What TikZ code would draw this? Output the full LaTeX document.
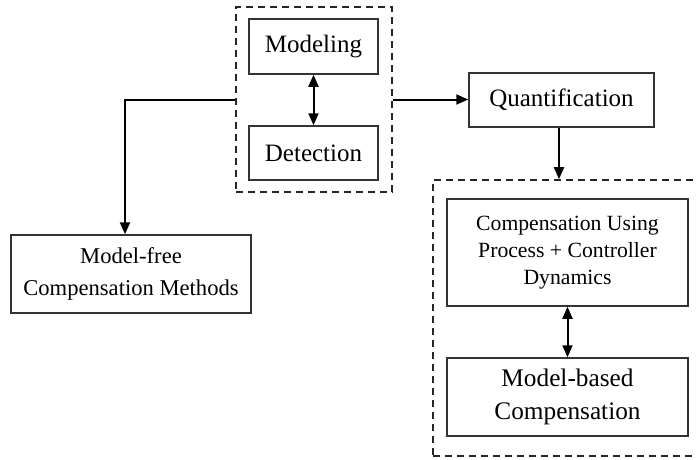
\documentclass[tikz,border=0pt]{standalone}
\usepackage{fontspec}
\setmainfont{Liberation Serif}
\usetikzlibrary{arrows.meta}

\tikzset{
  box/.style={draw=black!80, line width=1.5pt, rectangle, inner sep=0pt, align=center},
  group/.style={draw=black!85, line width=1.6pt, dash pattern=on 7pt off 5pt, rectangle, inner sep=0pt},
  tip/.style={Triangle[length=12pt,width=10pt]},
  link/.style={line width=2pt, -{Triangle[length=12pt,width=10pt]}},
  bilink/.style={line width=2pt, {Triangle[length=12pt,width=10pt]}-{Triangle[length=12pt,width=10pt]}},
  bigtext/.style={font=\fontsize{25}{32}\selectfont},
}

\begin{document}
\begin{tikzpicture}[x=1pt, y=-1pt]
  \useasboundingbox (0,0) rectangle (696,459);

  % upper group: modeling and detection
  \node[group, minimum width=156pt, minimum height=185pt] (g1) at (314,99.5) {};
  \node[box, bigtext, minimum width=129pt, minimum height=55pt] (model) at (313.5,46.5) {Modeling};
  \node[box, bigtext, minimum width=129pt, minimum height=54pt] (detect) at (313.5,153) {Detection};

  % quantification
  \node[box, bigtext, minimum width=185pt, minimum height=54pt] (quant) at (561.5,100) {Quantification};

  % lower-right group: compensation approaches (right side runs off the page)
  \node[group, minimum width=280pt, minimum height=276pt] (g2) at (573,318) {};
  \node[box, font=\fontsize{21.7}{27}\selectfont, minimum width=241pt, minimum height=107pt] (dyn) at (567.5,252.5)
    {Compensation Using\\Process + Controller\\Dynamics};
  \node[box, font=\fontsize{25.3}{33}\selectfont, minimum width=241pt, minimum height=78pt] (mbased) at (567.5,397)
    {Model-based\\Compensation};

  % model-free methods
  \node[box, font=\fontsize{22.6}{32}\selectfont, minimum width=240pt, minimum height=78pt] (mfree) at (131,274)
    {Model-free\\Compensation Methods};

  % connectors
  \draw[bilink] (model.south) -- (detect.north);
  \draw[bilink] (dyn.south) -- (mbased.north);
  \draw[link] (g1.west) -| (mfree.north -| 125,0);
  \draw[link] (g1.east) -- (quant.west |- g1.east);
  \draw[link] (quant.south -| 559,0) -- (g2.north -| 559,0);
\end{tikzpicture}
\end{document}
